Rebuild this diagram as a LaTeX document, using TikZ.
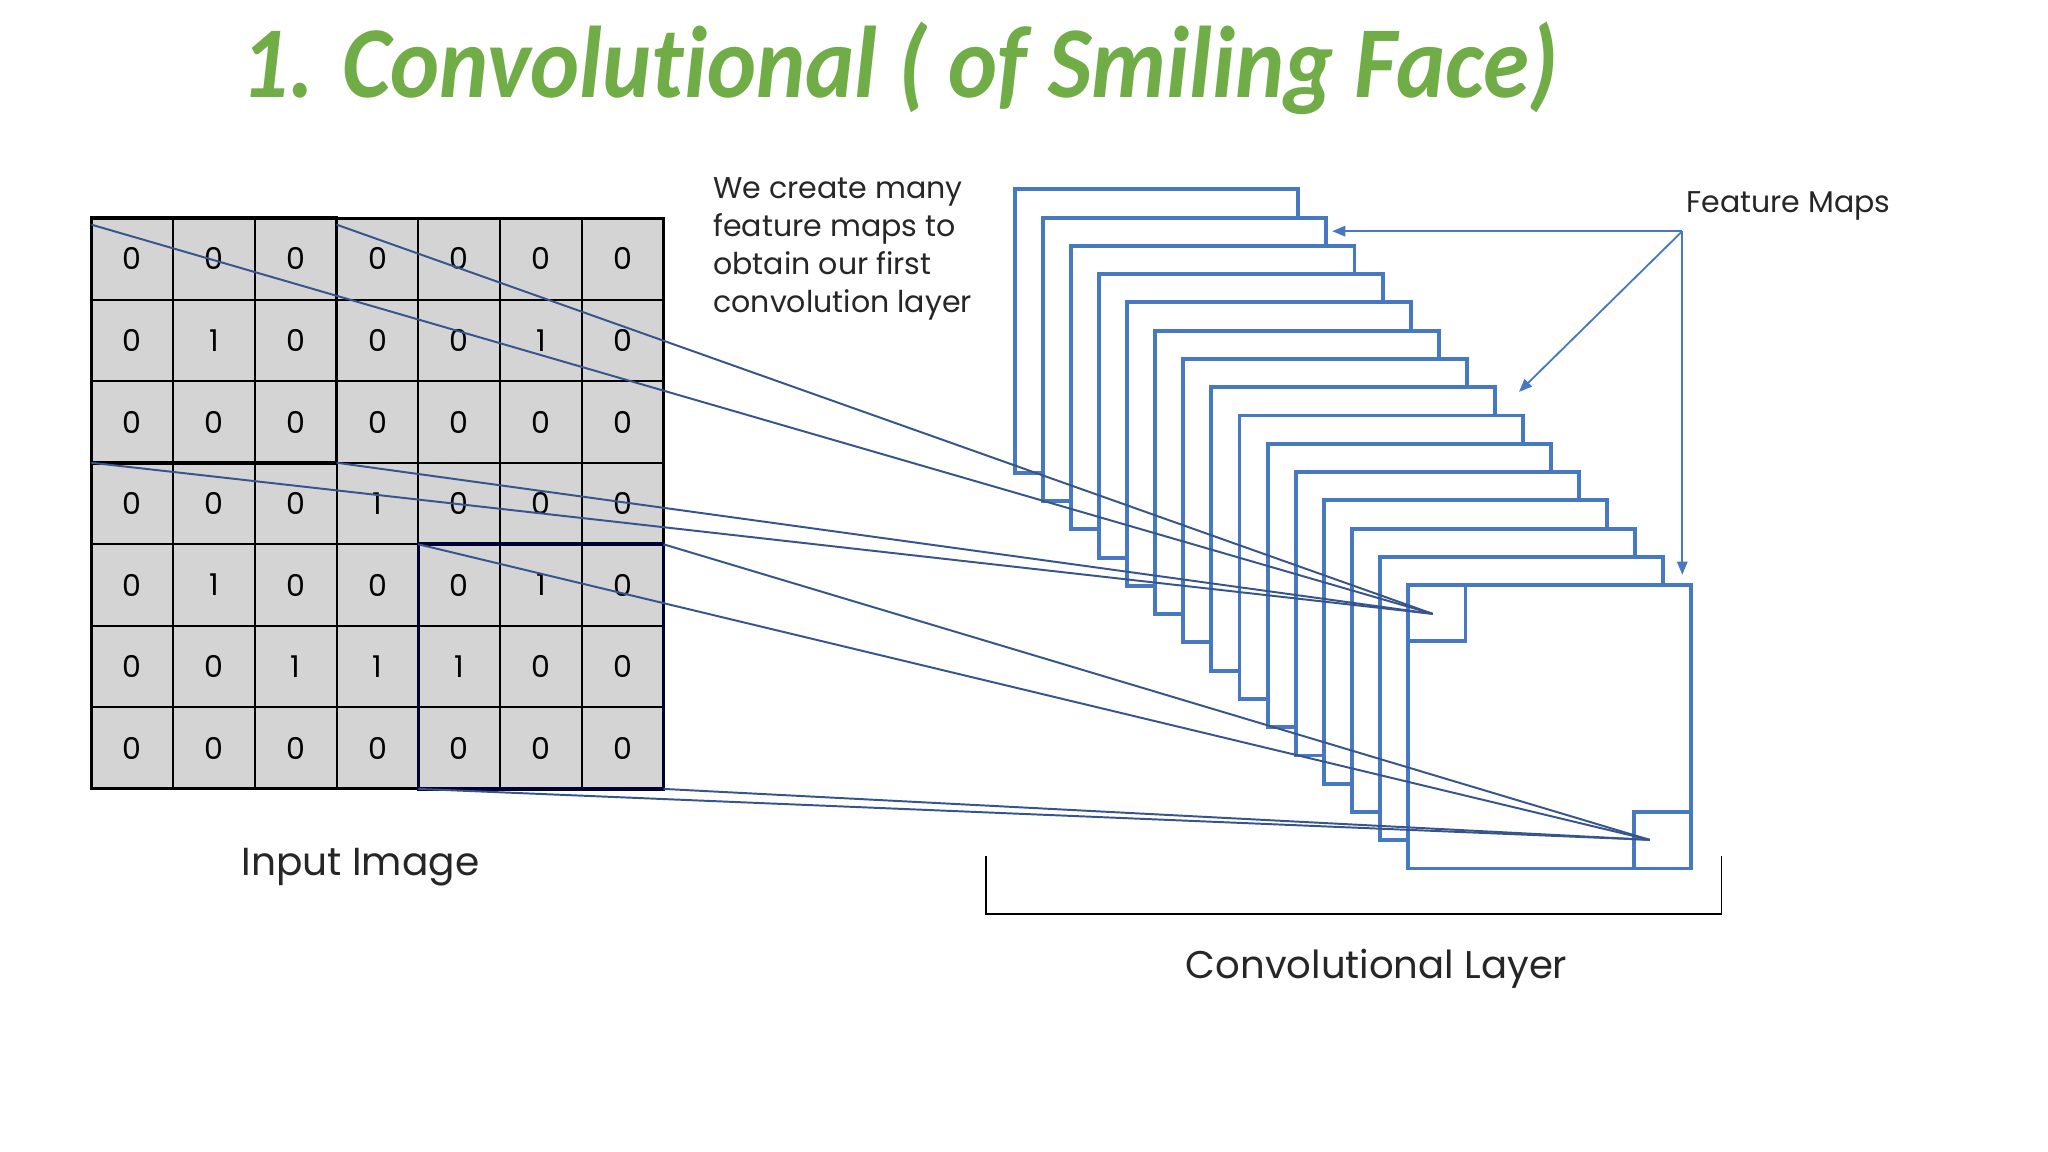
\documentclass[tikz,border=0pt]{standalone}
\usepackage{fontspec}
\setmainfont{Poppins}
\newfontfamily\titlefont[Ligatures=NoCommon]{Carlito}
\usetikzlibrary{arrows.meta,calc}
\definecolor{mapblue}{RGB}{70,120,195}
\definecolor{linkblue}{RGB}{55,85,140}
\definecolor{titlegreen}{RGB}{112,173,71}
\definecolor{cellgray}{RGB}{212,212,212}
\begin{document}
\begin{tikzpicture}[x=1pt,y=-1pt,
  cell/.style={draw=black, line width=1.5pt, fill=cellgray, minimum width=62.57pt, minimum height=62.43pt, inner sep=0pt, outer sep=0pt, font=\fontsize{23}{23}\selectfont},
  fmap/.style={draw=mapblue, fill=white, line width=3pt, minimum width=217pt, minimum height=217pt, inner sep=0pt, outer sep=0pt},
  smallsq/.style={draw=mapblue, line width=3pt, minimum width=44pt, minimum height=43pt, inner sep=0pt, outer sep=0pt},
  link/.style={draw=linkblue, line width=1.5pt},
  fmarrow/.style={draw=mapblue, line width=1.4pt, -{Triangle[width=8pt,length=10pt]}},
  label/.style={text=black!85, inner sep=0pt},
  note/.style={font=\fontsize{23}{29}\selectfont, text=black!85, align=left, anchor=north west, inner sep=0pt}
]
\useasboundingbox (0,0) rectangle (1568,882);
\fill[white] (0,0) rectangle (1568,882);

% title
\node[anchor=base west, inner sep=0pt, text=titlegreen, font=\titlefont\bfseries\itshape\fontsize{78}{78}\selectfont] (title) at (185,75) {\scalebox{0.915}[1]{1. Convolutional ( of Smiling Face)}};

% input grid
\foreach \r/\vals in {0/{0,0,0,0,0,0,0},1/{0,1,0,0,0,1,0},2/{0,0,0,0,0,0,0},3/{0,0,0,1,0,0,0},4/{0,1,0,0,0,1,0},5/{0,0,1,1,1,0,0},6/{0,0,0,0,0,0,0}}{
  \foreach \v [count=\c from 0] in \vals {
    \node[cell] (c\r\c) at ({70+62.57*(\c+0.5)},{167+62.43*(\r+0.5)}) {\v};
  }
}
\draw[line width=2.2pt] (c00.north west) rectangle (c66.south east);
\draw[line width=2.8pt] (c00.north west) rectangle (c22.south east);
\draw[line width=2.8pt, draw=black!80!blue] (c44.north west) rectangle (c66.south east);

% feature maps
\foreach \i in {0,...,14}{
  \node[fmap] (m\i) at ({777+108.5+21.5*\i},{145+108.5+21.64*\i}) {};
}
\node[smallsq, anchor=north west] (sqA) at (m14.north west) {};
\node[smallsq, anchor=south east] (sqB) at (m14.south east) {};

% connectors
\coordinate (pA) at (1097,470);
\coordinate (pB) at (1263,643);
\coordinate (wa1) at ($(c00.north west)+(0,5)$);
\coordinate (wa2) at ($(c03.north west)+(0,5)$);
\coordinate (wa3) at (c30.north west);
\coordinate (wa4) at (c33.north west);
\coordinate (wb1) at (c44.north west);
\coordinate (wb2) at (c46.north east);
\coordinate (wb3) at (c64.south west);
\coordinate (wb4) at (c66.south east);
\foreach \s in {wa1,wa2,wa3,wa4}{ \draw[link] (\s) -- (pA); }
\foreach \s in {wb1,wb2,wb3,wb4}{ \draw[link] (\s) -- (pB); }

% feature maps label and arrows
\node[label, anchor=base west] (fml) at (1291,163) {\resizebox{156pt}{!}{Feature Maps}};
\coordinate (fmo) at (1288,177);
\coordinate (fmt1) at (1020,177);
\coordinate (fmt2) at (1163,300);
\coordinate (fmt3) at (1288,440);
\draw[fmarrow] (fmo) -- (fmt1);
\draw[fmarrow] (fmo) -- (fmt2);
\draw[fmarrow] (fmo) -- (fmt3);

% note
\node[note] (note) at (546,136) {We create many\\feature maps to\\obtain our first\\convolution layer};

% bracket
\coordinate (br1) at (755,655);
\coordinate (br2) at (755,700);
\coordinate (br3) at (1318,700);
\coordinate (br4) at (1318,655);
\draw[line width=1.4pt] (br1) -- (br2) -- (br3) -- (br4);

% labels
\node[label] (inl) at (276,664) {\resizebox{182pt}{!}{Input Image}};
\node[label] (cvl) at (1054,742) {\resizebox{292pt}{!}{Convolutional Layer}};
\end{tikzpicture}
\end{document}
